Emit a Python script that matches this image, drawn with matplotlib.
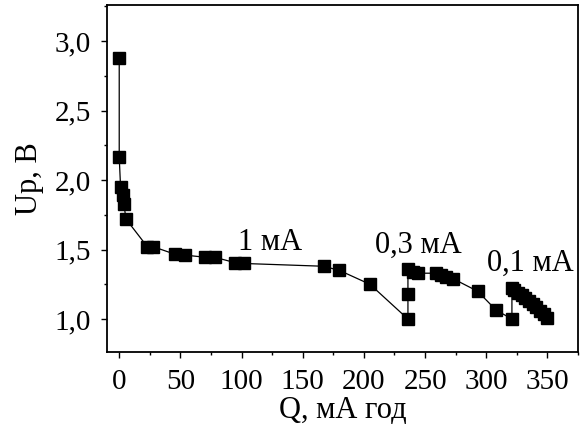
import matplotlib
matplotlib.use("Agg")
import matplotlib.pyplot as plt
from matplotlib.ticker import MultipleLocator, FuncFormatter

# ----------------------------
# Data
# ----------------------------
q_vals = [0, 0, 1.1, 2.8, 3.8, 5.5, 23, 28, 46, 54, 70, 78, 95, 102,
          167, 180, 205, 236,
          236, 236, 240, 244, 259, 263, 267, 273, 293, 308, 321,
          321, 323, 326, 329, 332, 335, 338, 341, 344, 347, 350]
u_vals = [2.88, 2.165, 1.95, 1.89, 1.83, 1.72, 1.52, 1.52, 1.465, 1.46, 1.445, 1.445, 1.405, 1.40,
          1.38, 1.35, 1.25, 1.0,
          1.18, 1.36, 1.34, 1.33, 1.33, 1.32, 1.30, 1.29, 1.20, 1.065, 1.0,
          1.22, 1.21, 1.19, 1.17, 1.15, 1.13, 1.11, 1.09, 1.06, 1.04, 1.01]

labels = ["1 мА", "0,3 мА", "0,1 мА"]
label_x = [97, 209, 301]
label_y = [1.496, 1.48, 1.35]

plt.rcParams.update({
    "font.family": ["Liberation Serif", "DejaVu Serif"],
    "font.size": 21,
    "axes.linewidth": 1.3,
})

fig = plt.figure(figsize=(5.84, 4.32), dpi=100)
ax = fig.add_axes([0.1832, 0.1852, 0.8065, 0.8032])

ax.plot(q_vals, u_vals, color="black", linewidth=0.9, marker="s",
        markersize=8.5, markerfacecolor="black", markeredgecolor="black")

for t, x, y in zip(labels, label_x, label_y):
    ax.text(x, y, t, fontsize=22, va="baseline", ha="left")

ax.set_xlim(-10, 375)
ax.set_ylim(0.763, 3.26)

ax.xaxis.set_major_locator(MultipleLocator(50))
ax.xaxis.set_minor_locator(MultipleLocator(25))
ax.yaxis.set_major_locator(MultipleLocator(0.5))
ax.yaxis.set_minor_locator(MultipleLocator(0.25))
ax.yaxis.set_major_formatter(FuncFormatter(lambda v, p: f"{v:.1f}".replace(".", ",")))

ax.tick_params(which="both", direction="out", top=False, right=False, width=1.0)
ax.tick_params(which="major", length=4.3, labelsize=21)
ax.tick_params(axis="x", which="major", pad=8)
ax.tick_params(axis="y", which="major", pad=7)
ax.tick_params(which="minor", length=2.5)

ax.set_xlabel("Q, мА год", fontsize=22, labelpad=1)
ax.set_ylabel("Up, В", fontsize=22, labelpad=8)

fig.savefig("out.png", dpi=100)
